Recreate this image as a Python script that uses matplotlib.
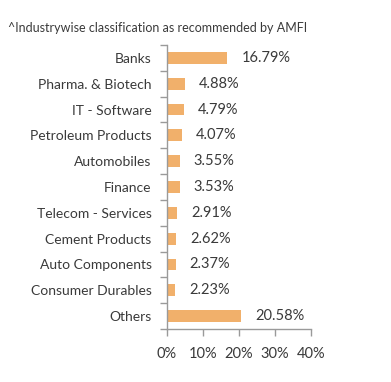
import matplotlib
matplotlib.use("Agg")
import matplotlib.pyplot as plt
import numpy as np

categories = ["Banks", "Pharma. & Biotech", "IT - Software", "Petroleum Products",
              "Automobiles", "Finance", "Telecom - Services", "Cement Products",
              "Auto Components", "Consumer Durables", "Others"]
values = [16.79, 4.88, 4.79, 4.07, 3.55, 3.53, 2.91, 2.62, 2.37, 2.23, 20.58]
xticks = [0, 10, 20, 30, 40]
title = "^Industrywise classification as recommended by AMFI"

plt.rcParams['font.family'] = ['Lato', 'DejaVu Sans']
text_color = "#3a3a3a"
spine_color = "#9a9a9a"
bar_color = "#F1B06B"

fig = plt.figure(figsize=(3.91, 3.82), dpi=100)
ax = fig.add_axes([167/391, 1-329/382, 144/391, 284/382])

y = np.arange(len(categories))
ax.barh(y, values, height=0.46, color=bar_color)
for yi, v in zip(y, values):
    ax.annotate(f"{v:.2f}%", (v, yi), xytext=(10, 0), textcoords="offset points",
                va="center", ha="left", fontsize=10.5, color=text_color)

ax.set_ylim(len(categories)-0.5, -0.5)
ax.set_xlim(0, 40)
ax.set_yticks(y)
ax.set_yticklabels(categories, fontsize=10, color=text_color)
ax.set_yticks(np.arange(-0.5, len(categories), 1), minor=True)
ax.tick_params(axis='y', which='major', length=0, pad=11)
ax.tick_params(axis='y', which='minor', length=5, color=spine_color, width=1)
ax.set_xticks(xticks)
ax.set_xticklabels([f"{t}%" for t in xticks], fontsize=10.5, color=text_color)
ax.tick_params(axis='x', length=5, color=spine_color, width=1, pad=8)
for s in ['top', 'right']:
    ax.spines[s].set_visible(False)
for s in ['left', 'bottom']:
    ax.spines[s].set_color(spine_color)
    ax.spines[s].set_linewidth(1)

fig.text(8/391, 1-28/382, title, fontsize=9, color=text_color, va="center", ha="left")

fig.savefig("out.png", dpi=100)
